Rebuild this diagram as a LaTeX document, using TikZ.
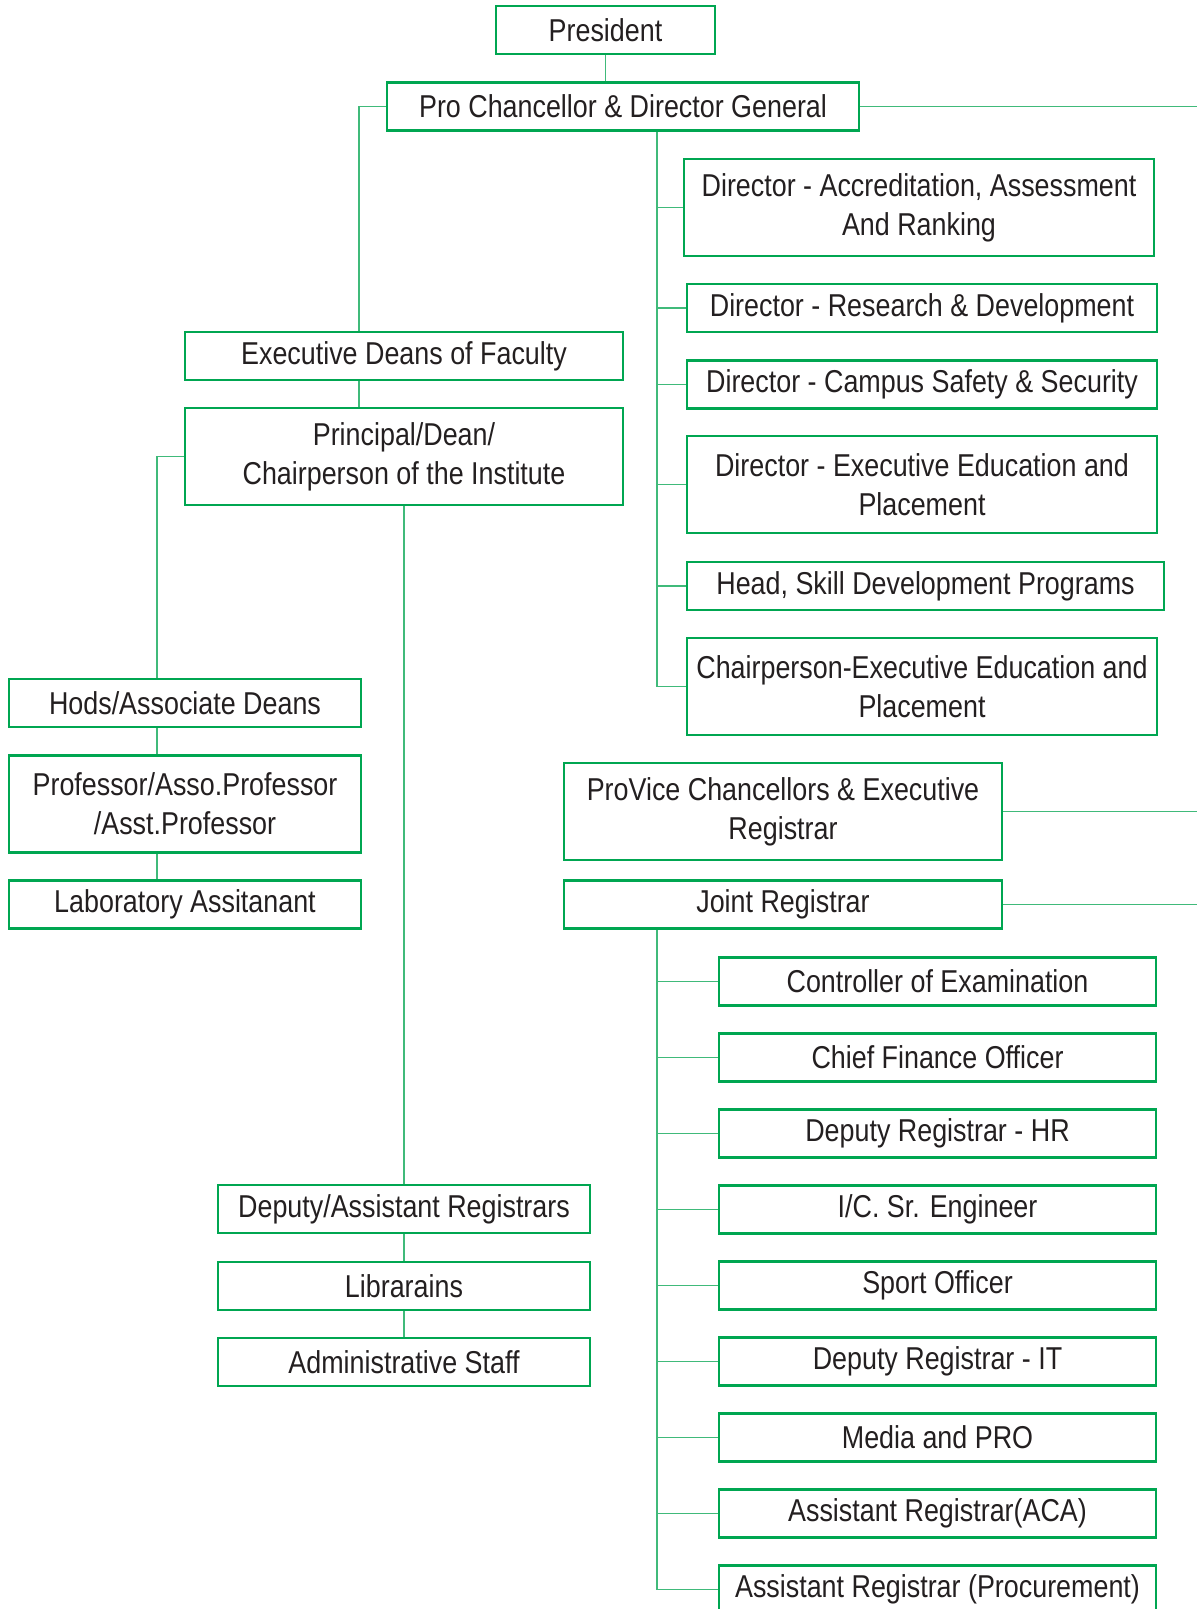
\documentclass[tikz,border=0pt]{standalone}
\usepackage{xcolor}
\usepackage{fontspec}
\setmainfont{Liberation Sans}[FakeStretch=0.85]
\usepackage{tikz}

\definecolor{boxgreen}{RGB}{0,166,81}
\definecolor{linegreen}{RGB}{64,186,122}
\definecolor{inkgrey}{RGB}{35,31,32}

\tikzset{
  post/.style={draw=boxgreen, line width=1.6pt, rectangle, inner sep=0pt,
    align=center, text=inkgrey, font=\fontsize{18}{22}\selectfont},
  single/.style={post, minimum height=0.96cm},
  double/.style={post, minimum height=1.94cm},
  link/.style={draw=linegreen, line width=1pt}
}

\begin{document}
\begin{tikzpicture}[x=0.02cm, y=-0.02cm]
				\useasboundingbox (0, 0) rectangle (1197, 1609);
				% top
				\node[single, minimum width=4.38cm] (pres) at (605.5, 30) {President};
				\node[single, minimum width=9.44cm] (pcdg) at (623, 106.5) {Pro Chancellor \& Director General};
				% directors
				\node[double, minimum width=9.4cm] (aar) at (919, 207.5) {Director - Accreditation, Assessment\\And Ranking};
				\node[single, minimum width=9.4cm] (rnd) at (922, 308) {Director - Research \& Development};
				\node[single, minimum width=9.4cm] (safe) at (922, 384.5) {Director - Campus Safety \& Security};
				\node[double, minimum width=9.4cm] (eep) at (922, 484.5) {Director - Executive Education and\\Placement};
				\node[single, minimum width=9.54cm] (skill) at (925.5, 586) {Head, Skill Development Programs};
				\node[double, minimum width=9.4cm] (chair) at (922, 686.5) {Chairperson-Executive Education and\\Placement};
				% faculty
				\node[single, minimum width=8.76cm] (deans) at (404, 356) {Executive Deans of Faculty};
				\node[double, minimum width=8.76cm] (princ) at (404, 456.5) {Principal/Dean/\\Chairperson of the Institute};
				\node[single, minimum width=7.04cm] (hods) at (185, 703) {Hods/Associate Deans};
				\node[double, minimum width=7.04cm] (prof) at (185, 804) {Professor/Asso.Professor\\/Asst.Professor};
				\node[single, minimum width=7.04cm] (lab) at (185, 904.5) {Laboratory Assitanant};
				\node[single, minimum width=7.44cm] (dreg) at (404, 1209) {Deputy/Assistant Registrars};
				\node[single, minimum width=7.44cm] (lib) at (404, 1286) {Librarains};
				\node[single, minimum width=7.44cm] (admin) at (404, 1362) {Administrative Staff};
				% registrars
				\node[double, minimum width=8.76cm] (pvc) at (783, 811.5) {ProVice Chancellors \& Executive\\Registrar};
				\node[single, minimum width=8.76cm] (joint) at (783, 904.5) {Joint Registrar};
				\node[single, minimum width=8.74cm] (coe) at (937.5, 981.5) {Controller of Examination};
				\node[single, minimum width=8.74cm] (cfo) at (937.5, 1057.5) {Chief Finance Officer};
				\node[single, minimum width=8.74cm] (hr) at (937.5, 1133.5) {Deputy Registrar - HR};
				\node[single, minimum width=8.74cm] (eng) at (937.5, 1209.5) {I/C. Sr. Engineer};
				\node[single, minimum width=8.74cm] (sport) at (937.5, 1285.5) {Sport Officer};
				\node[single, minimum width=8.74cm] (it) at (937.5, 1361.5) {Deputy Registrar - IT};
				\node[single, minimum width=8.74cm] (pro) at (937.5, 1437.5) {Media and PRO};
				\node[single, minimum width=8.74cm] (aca) at (937.5, 1513.5) {Assistant Registrar(ACA)};
				\node[single, minimum width=8.74cm] (proc) at (937.5, 1589.5) {Assistant Registrar (Procurement)};
				% free ends
				\coordinate (dspine) at (657, 0);
				\coordinate (fspine) at (359, 0);
				\coordinate (hspine) at (157, 0);
				\coordinate (edge) at (1197, 0);
				% connectors
				\draw[link] (pres.south) to (pres.south |- pcdg.north);
				\draw[link] (pcdg.south -| dspine) to (chair.west -| dspine);
				\foreach \d in {aar, rnd, safe, eep, skill, chair}
					\draw[link] (\d.west -| dspine) to (\d.west);
				\draw[link] (pcdg.west) -| (deans.north -| fspine);
				\draw[link] (deans.south -| fspine) to (princ.north -| fspine);
				\draw[link] (princ.west) -| (hods.north -| hspine);
				\draw[link] (hods.south -| hspine) to (prof.north -| hspine);
				\draw[link] (prof.south -| hspine) to (lab.north -| hspine);
				\draw[link] (princ) to (dreg);
				\draw[link] (dreg) to (lib);
				\draw[link] (lib) to (admin);
				\draw[link] (pcdg.east) to (pcdg.east -| edge);
				\draw[link] (pvc.east) to (pvc.east -| edge);
				\draw[link] (joint.east) to (joint.east -| edge);
				\draw[link] (joint.south -| dspine) to (proc.west -| dspine);
				\foreach \r in {coe, cfo, hr, eng, sport, it, pro, aca, proc}
					\draw[link] (\r.west -| dspine) to (\r.west);
		\end{tikzpicture}
\end{document}
